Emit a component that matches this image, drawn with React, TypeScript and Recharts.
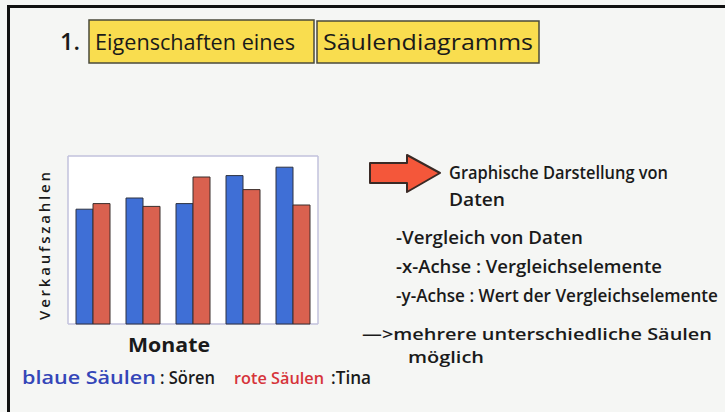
import React from 'react';
import { BarChart, Bar, XAxis, YAxis, CartesianGrid } from 'recharts';

// values (no scale printed, 6 grid steps)
const months = ['Jan', 'Feb', 'Mär', 'Apr', 'Mai'];
const soeren = [4.1, 4.5, 4.3, 5.3, 5.6];
const tina = [4.3, 4.2, 5.25, 4.8, 4.25];
const yTicks = [0, 1, 2, 3, 4, 5, 6];

const chartData = months.map((m, i) => ({ month: m, soeren: soeren[i], tina: tina[i] }));

const hand = '"Open Sans", "DejaVu Sans", sans-serif';

const Overlay = () => (
  <svg width={725} height={412} style={{ position: 'absolute', left: 0, top: 0, pointerEvents: 'none' }}>
    {/* board frame */}
    <rect x={8} y={5} width={717} height={3} fill="#111" />
    <rect x={7} y={5} width={3} height={407} fill="#111" />

    {/* title */}
    <text x={60} y={50} fontFamily={hand} fontSize={24} fontWeight={600} fill="#1a1a1a" textLength={20} lengthAdjust="spacingAndGlyphs">1.</text>
    <rect x={89} y={20} width={225} height={43} fill="#f9dd4f" stroke="#4a4a3a" strokeWidth={1.5} />
    <rect x={317} y={21} width={222} height={42} fill="#f9dd4f" stroke="#4a4a3a" strokeWidth={1.5} />
    <text x={95} y={50} fontFamily={hand} fontSize={21} fill="#1a1a1a" textLength={200} lengthAdjust="spacingAndGlyphs">Eigenschaften eines</text>
    <text x={323} y={50} fontFamily={hand} fontSize={22} fill="#1a1a1a" textLength={210} lengthAdjust="spacingAndGlyphs">Säulendiagramms</text>

    {/* orange arrow */}
    <polygon points="370,163 407,163 407,155 440,173 407,192 407,183 370,183" fill="#f4573a" stroke="#3a2a25" strokeWidth={2} strokeLinejoin="round" />

    {/* notes */}
    <g fontFamily={hand} fontSize={18} fontWeight={600} fill="#1a1a1a">
      <text x={449} y={179} textLength={219} lengthAdjust="spacingAndGlyphs">Graphische Darstellung von</text>
      <text x={449} y={206} textLength={56} lengthAdjust="spacingAndGlyphs">Daten</text>
      <text x={396} y={244} textLength={187} lengthAdjust="spacingAndGlyphs">-Vergleich von Daten</text>
      <text x={396} y={273} textLength={266} lengthAdjust="spacingAndGlyphs">-x-Achse : Vergleichselemente</text>
      <text x={0} y={0} transform="translate(396,302) scale(0.95,1)">-y-Achse : Wert der Vergleichselemente</text>
    </g>
    <g fontFamily={hand} fontSize={16} fontWeight={600} fill="#1a1a1a">
      <text x={362} y={340} textLength={350} lengthAdjust="spacingAndGlyphs">—&gt;mehrere unterschiedliche Säulen</text>
      <text x={408} y={363} textLength={76} lengthAdjust="spacingAndGlyphs">möglich</text>
    </g>

    {/* axis titles */}
    <text
      x={0}
      y={0}
      transform="translate(50,246) rotate(-90)"
      textAnchor="middle"
      fontFamily={hand}
      fontSize={15}
      fontWeight={600}
      fill="#1a1a1a"
      textLength={148}
      lengthAdjust="spacing"
    >
      Verkaufszahlen
    </text>
    <text x={128} y={352} fontFamily={hand} fontSize={19} fontWeight={700} fill="#1a1a1a" textLength={82} lengthAdjust="spacingAndGlyphs">Monate</text>

    {/* legend line */}
    <g fontFamily={hand} fontSize={18} fontWeight={600}>
      <text x={22} y={384} fill="#3446b8" textLength={134} lengthAdjust="spacingAndGlyphs">blaue Säulen</text>
      <text x={160} y={384} fill="#1a1a1a" textLength={55} lengthAdjust="spacingAndGlyphs">: Sören</text>
      <text x={234} y={384} fontSize={17} fill="#d6343a" textLength={90} lengthAdjust="spacingAndGlyphs">rote Säulen</text>
      <text x={331} y={384} fill="#1a1a1a" textLength={40} lengthAdjust="spacingAndGlyphs">:Tina</text>
    </g>
  </svg>
);

const App = () => {
  return (
    <div style={{ position: 'fixed', left: 0, top: 0, width: 725, height: 412, background: '#f5f6f4', overflow: 'hidden' }}>
      <div style={{ position: 'absolute', left: 0, top: 0 }}>
        <BarChart
          width={725}
          height={412}
          data={chartData}
          margin={{ top: 156, right: 407, bottom: 88, left: 68 }}
          barCategoryGap="16%"
          barGap={0}
        >
          <CartesianGrid
            fill="#ffffff"
            stroke="#c2c2dc"
            strokeWidth={1.5}
            verticalCoordinatesGenerator={({ offset }: any) => [offset.left, offset.left + offset.width]}
          />
          <XAxis dataKey="month" height={0} tick={false} tickLine={false} axisLine={{ stroke: '#8a8a98', strokeWidth: 2 }} />
          <YAxis width={0} domain={[0, 6]} ticks={yTicks} tick={false} tickLine={false} axisLine={false} />
          <Bar dataKey="soeren" fill="#3f6fd6" stroke="#2e3340" strokeWidth={1} isAnimationActive={false} />
          <Bar dataKey="tina" fill="#d9614f" stroke="#3a2e2c" strokeWidth={1} isAnimationActive={false} />
        </BarChart>
      </div>
      <Overlay />
    </div>
  );
};

export default App;
